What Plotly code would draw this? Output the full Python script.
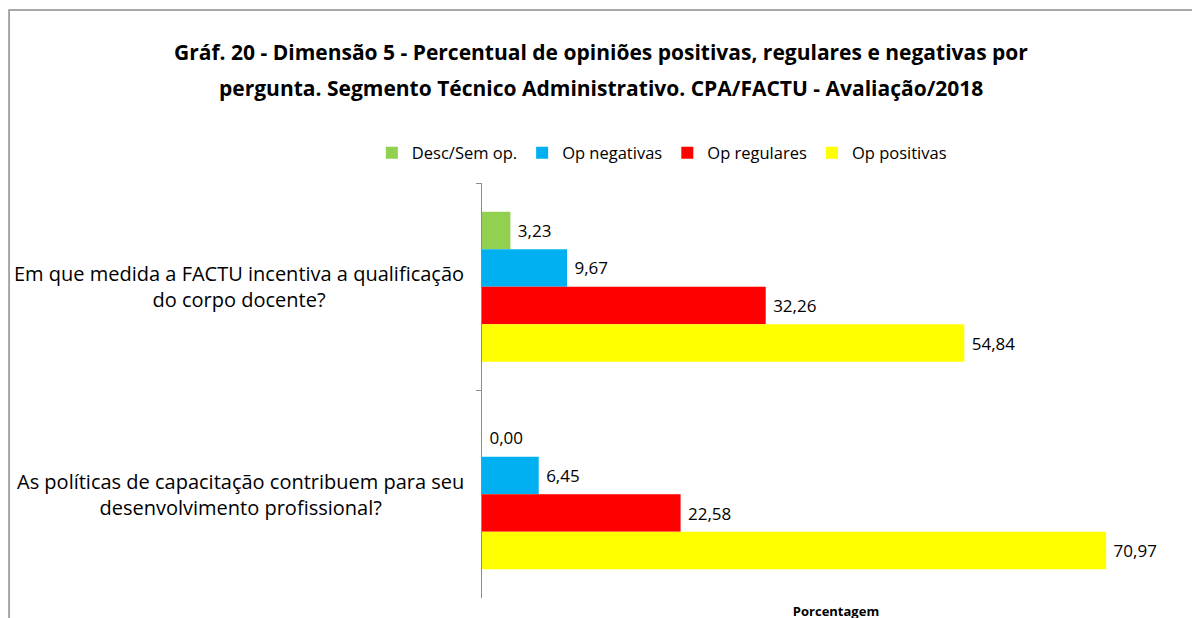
import plotly.graph_objects as go

# Dados
perguntas = [
    "Em que medida a FACTU incentiva a qualificação<br>do corpo docente?",
    "As políticas de capacitação contribuem para seu<br>desenvolvimento profissional?",
]
desc_sem_op = [3.23, 0.00]
op_negativas = [9.67, 6.45]
op_regulares = [32.26, 22.58]
op_positivas = [54.84, 70.97]

series = [
    ("Desc/Sem op.", desc_sem_op, "#92D050"),
    ("Op negativas", op_negativas, "#00B0F0"),
    ("Op regulares", op_regulares, "#FF0000"),
    ("Op positivas", op_positivas, "#FFFF00"),
]

FONTE = "Open Sans"

fig = go.Figure()

for nome, valores, cor in series:
    fig.add_trace(go.Bar(
        y=perguntas,
        x=valores,
        name=nome,
        orientation='h',
        marker=dict(color=cor, line=dict(width=0)),
        text=["\u00a0" + f"{v:.2f}".replace(".", ",") for v in valores],
        textposition='outside',
        textfont=dict(family=FONTE, size=17, color='black'),
        cliponaxis=False,
        hoverinfo='skip',
    ))

# rótulos das perguntas centralizados (como no Excel)
for p in perguntas:
    fig.add_annotation(
        x=0, xref='paper', y=p, yref='y',
        text=p, showarrow=False,
        xanchor='right', xshift=-16, align='center',
        font=dict(family=FONTE, size=20, color='black'),
    )

# título em duas linhas
fig.add_annotation(
    x=0.168, xref='paper', y=1.316, yref='paper',
    text="<b>Gráf. 20 - Dimensão 5 - Percentual de opiniões positivas, regulares e negativas por</b>",
    showarrow=False, xanchor='center', yanchor='middle',
    font=dict(family=FONTE, size=21, color='black'),
)
fig.add_annotation(
    x=0.168, xref='paper', y=1.229, yref='paper',
    text="<b>pergunta. Segmento Técnico Administrativo. CPA/FACTU - Avaliação/2018</b>",
    showarrow=False, xanchor='center', yanchor='middle',
    font=dict(family=FONTE, size=21, color='black'),
)

# moldura do gráfico
fig.add_shape(
    type='rect', xref='paper', yref='paper',
    x0=-0.668, x1=1.05, y0=-0.2, y1=1.417,
    line=dict(color='#8c8c8c', width=1.5),
    fillcolor='rgba(0,0,0,0)', layer='below',
)

fig.update_layout(
    width=1200,
    height=618,
    margin=dict(l=474, r=18, t=175, b=28),
    barmode='group',
    bargap=0.277,
    bargroupgap=0,
    plot_bgcolor='white',
    paper_bgcolor='white',
    font=dict(family=FONTE, size=15, color='black'),
    showlegend=True,
    legend=dict(
        orientation='h',
        x=0.254, xanchor='center',
        y=1.072, yanchor='middle',
        font=dict(family=FONTE, size=16.5),
        traceorder='normal',
        itemwidth=30,
    ),
)

fig.update_xaxes(
    range=[0, 80.5],
    showgrid=False,
    zeroline=False,
    showticklabels=False,
    ticks='',
    showline=False,
    title=dict(text="<b>Porcentagem</b>", font=dict(family=FONTE, size=13), standoff=8),
    automargin=False,
)
fig.update_yaxes(
    autorange='reversed',
    showgrid=False,
    showticklabels=False,
    showline=True,
    linecolor='#8c8c8c',
    linewidth=1,
    ticks='outside',
    tickson='boundaries',
    ticklen=5,
    tickcolor='#8c8c8c',
)

fig.write_html("out.html")
